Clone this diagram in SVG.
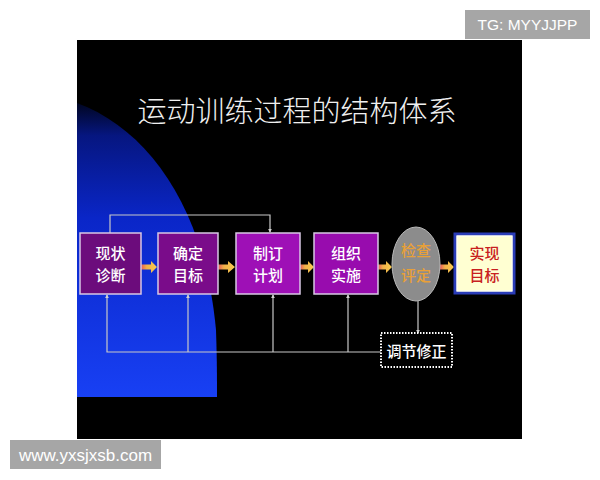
<svg xmlns="http://www.w3.org/2000/svg" width="600" height="480" viewBox="0 0 600 480">
<defs>
<linearGradient id="blueG" x1="0" y1="100" x2="0" y2="397" gradientUnits="userSpaceOnUse">
<stop offset="0" stop-color="#000418"/>
<stop offset="0.12" stop-color="#061680"/>
<stop offset="0.4" stop-color="#0A26C8"/>
<stop offset="1" stop-color="#1840F4"/>
</linearGradient>
<linearGradient id="arrG" x1="0" y1="0" x2="1" y2="0">
<stop offset="0" stop-color="#E85A5A"/>
<stop offset="0.35" stop-color="#F2B048"/>
<stop offset="1" stop-color="#F8CC50"/>
</linearGradient>
<marker id="tip" viewBox="0 0 6 6" refX="5" refY="3" markerWidth="4" markerHeight="4" orient="auto" markerUnits="userSpaceOnUse">
<path d="M0,0 L6,3 L0,6 Z" fill="#D0D0D0"/>
</marker>
</defs>
<style>
.lbl{font-family:"Noto Sans CJK SC","Noto Sans",sans-serif;font-size:15px;font-weight:500;text-anchor:middle}
.w{fill:#FFFFFF}
.box{stroke:#D8C8E4;stroke-width:1.5}
.conn{fill:none;stroke:#C8C8C8;stroke-width:1.2}
.wm{font-family:"Liberation Sans",Arial,sans-serif;fill:#FFFFFF}
</style>
<rect x="0" y="0" width="600" height="480" fill="#FFFFFF"/>
<rect x="77" y="40" width="445" height="399" fill="#000000"/>
<path d="M77,103 C150,130 205,210 216,330 C217,360 217,380 217,397 L77,397 Z" fill="url(#blueG)"/>
<text x="297" y="122" font-family="Noto Sans CJK SC,sans-serif" font-size="29" font-weight="300" fill="#F0F0F0" text-anchor="middle">运动训练过程的结构体系</text>

<g id="connectors">
<polyline class="conn" points="110,233 110,215 270,215 270,232" marker-end="url(#tip)"/>
<polyline class="conn" points="381,352 107,352 107,295" marker-end="url(#tip)"/>
<line class="conn" x1="188" y1="352" x2="188" y2="295" marker-end="url(#tip)"/>
<line class="conn" x1="273" y1="352" x2="273" y2="295" marker-end="url(#tip)"/>
<line class="conn" x1="348" y1="352" x2="348" y2="295" marker-end="url(#tip)"/>
<line class="conn" x1="418" y1="301" x2="418" y2="333" marker-end="url(#tip)"/>
<g id="arrows" fill="url(#arrG)">
<path d="M141,264.5 L151,264.5 L151,261 L157,267 L151,273 L151,269.5 L141,269.5 Z"/>
<path d="M218,264.5 L228,264.5 L228,261 L235,267 L228,273 L228,269.5 L218,269.5 Z"/>
<path d="M300,264.5 L308,264.5 L308,261 L314,267 L308,273 L308,269.5 L300,269.5 Z"/>
<path d="M378,264.5 L386,264.5 L386,261 L392,267 L386,273 L386,269.5 L378,269.5 Z"/>
<path d="M440,264.5 L448,264.5 L448,261 L454,267 L448,273 L448,269.5 L440,269.5 Z"/>
</g>
</g>

<g id="n1">
<rect class="box" x="80" y="233" width="61" height="61" fill="#6C0C7C"/>
<text class="lbl w" x="110.5" y="259">现状</text>
<text class="lbl w" x="110.5" y="281">诊断</text>
</g>
<g id="n2">
<rect class="box" x="158" y="233" width="60" height="61" fill="#7A0C8A"/>
<text class="lbl w" x="188" y="259">确定</text>
<text class="lbl w" x="188" y="281">目标</text>
</g>
<g id="n3">
<rect class="box" x="236" y="233" width="64" height="61" fill="#9E10B6"/>
<text class="lbl w" x="268" y="259">制订</text>
<text class="lbl w" x="268" y="281">计划</text>
</g>
<g id="n4">
<rect class="box" x="314" y="233" width="64" height="61" fill="#980CAE"/>
<text class="lbl w" x="346" y="259">组织</text>
<text class="lbl w" x="346" y="281">实施</text>
</g>
<g id="n5">
<ellipse cx="416" cy="264" rx="24" ry="37" fill="#8C8C8C" stroke="#B8B8B8" stroke-width="1"/>
<text class="lbl" x="416" y="256" fill="#E8A038">检查</text>
<text class="lbl" x="416" y="281" fill="#E8A038">评定</text>
</g>
<g id="n6">
<rect x="455" y="234" width="59" height="59" fill="#FFFFD2" stroke="#2A3CB8" stroke-width="3"/>
<rect x="457" y="236" width="55" height="55" fill="none" stroke="#FFFFFF" stroke-width="1"/>
<text class="lbl" x="484.5" y="259" fill="#C82020">实现</text>
<text class="lbl" x="484.5" y="281" fill="#C82020">目标</text>
</g>
<g id="n7">
<rect x="381" y="333" width="71" height="34" fill="#000000" stroke="#FFFFFF" stroke-width="2" stroke-dasharray="1.5 1.5"/>
<text class="lbl w" x="416.5" y="357">调节修正</text>
</g>

<g id="watermarks">
<rect x="465" y="10" width="125" height="29" fill="#A6A6A6"/>
<text class="wm" x="527.5" y="30" font-size="15.5" text-anchor="middle">TG: MYYJJPP</text>
<rect x="10" y="440" width="151" height="29" fill="#A6A6A6"/>
<text class="wm" x="85.5" y="461" font-size="17" text-anchor="middle">www.yxsjxsb.com</text>
</g>
</svg>
